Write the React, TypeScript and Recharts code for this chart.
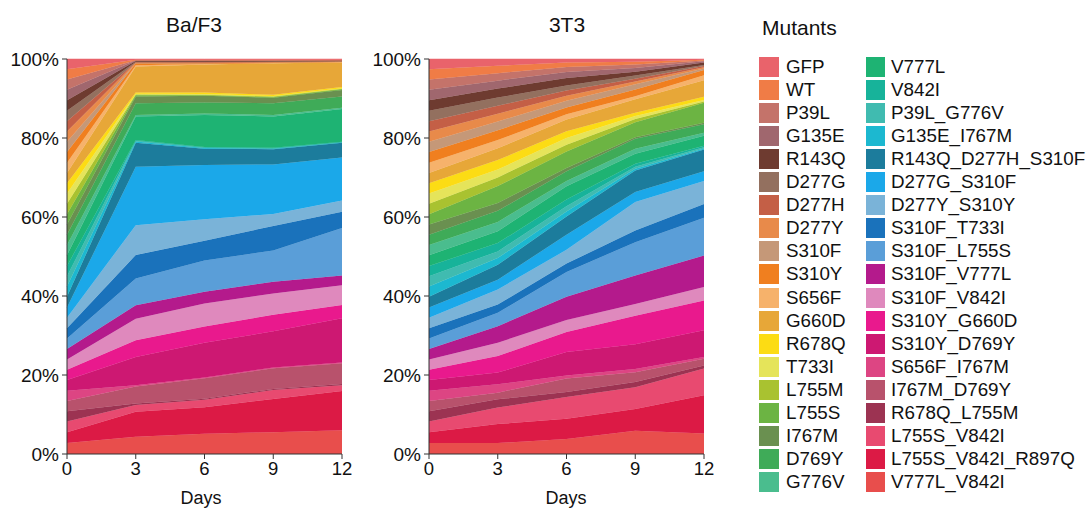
import React from 'react';
import { AreaChart, Area, XAxis, YAxis } from 'recharts';

const mutants = [
  'GFP', 'WT', 'P39L', 'G135E', 'R143Q', 'D277G', 'D277H', 'D277Y', 'S310F', 'S310Y',
  'S656F', 'G660D', 'R678Q', 'T733I', 'L755M', 'L755S', 'I767M', 'D769Y', 'G776V',
  'V777L', 'V842I', 'P39L_G776V', 'G135E_I767M', 'R143Q_D277H_S310F', 'D277G_S310F',
  'D277Y_S310Y', 'S310F_T733I', 'S310F_L755S', 'S310F_V777L', 'S310F_V842I',
  'S310Y_G660D', 'S310Y_D769Y', 'S656F_I767M', 'I767M_D769Y', 'R678Q_L755M',
  'L755S_V842I', 'L755S_V842I_R897Q', 'V777L_V842I',
];

const colors = [
  '#e9636b', '#f07c46', '#c4736a', '#a0676e', '#6e3b30', '#93705f', '#c45f46', '#e88a4a',
  '#c59878', '#f07f1f', '#f6b26b', '#e7a738', '#fcdc14', '#e5e45a', '#a9c230', '#6cb443',
  '#6a9050', '#3fab58', '#4abd8e', '#1eb373', '#17b39a', '#40bbb0', '#1cb8d0', '#1c7c9c',
  '#1ba8e9', '#7ab3d8', '#1a72bb', '#5a9ed8', '#b41a8c', '#df89bd', '#e9198d', '#cd1872',
  '#dd4583', '#b8526c', '#9c3352', '#e84a70', '#dc1a45', '#e84e4c',
];

const days = [0, 3, 6, 9, 12];
const yTicks = [0, 0.2, 0.4, 0.6, 0.8, 1];

// Ba/F3 percentages per day, in legend order
const baf3Day0 = [
  2.6, 2.6, 2.6, 2.6, 2.7, 2.6, 2.6, 2.6, 2.6, 2.7, 2.6, 2.6, 2.6, 2.6, 2.6, 2.6, 2.6, 2.6, 2.6,
  2.7, 2.6, 2.6, 2.6, 2.7, 2.6, 2.6, 2.6, 2.7, 2.6, 2.6, 2.6, 2.7, 2.6, 2.6, 2.6, 2.7, 2.7, 2.8,
];
const baf3Day3 = [
  0.2, 0.1, 0.1, 0.1, 0.2, 0.1, 0.1, 0.1, 0.1, 0.5, 0.3, 6.6, 0.3, 0.2, 0.2, 0.3, 1.7, 3.0, 0.4,
  5.9, 0.2, 0.2, 0.3, 6.1, 14.8, 7.6, 5.9, 6.8, 3.4, 5.5, 4.2, 7.2, 0.3, 4.3, 0.4, 1.7, 6.3, 4.4,
];
const baf3Day6 = [
  0.2, 0.1, 0.1, 0.1, 0.2, 0.1, 0.1, 0.1, 0.1, 0.2, 0.1, 7.2, 0.4, 0.15, 0.15, 0.15, 1.7, 2.8, 0.4,
  8.2, 0.15, 0.15, 0.15, 4.2, 13.9, 5.5, 5.1, 8.0, 3.0, 5.9, 4.2, 8.9, 0.2, 5.2, 0.3, 1.9, 6.8, 5.2,
];
const baf3Day9 = [
  0.2, 0.1, 0.1, 0.1, 0.1, 0.1, 0.1, 0.05, 0.05, 0.1, 0.1, 8.1, 0.3, 0.15, 0.15, 0.15, 1.4, 3.0, 0.4,
  8.0, 0.15, 0.1, 0.15, 3.9, 12.7, 3.1, 6.3, 8.0, 3.0, 5.5, 4.2, 9.3, 0.2, 5.3, 0.3, 2.3, 8.5, 5.6,
];
const baf3Day12 = [
  0.2, 0.1, 0.05, 0.05, 0.1, 0.05, 0.05, 0.05, 0.05, 0.1, 0.1, 6.3, 0.3, 0.15, 0.15, 0.15, 1.7, 2.9, 0.3,
  8.4, 0.1, 0.1, 0.1, 3.8, 11.0, 2.9, 4.2, 12.2, 2.5, 5.1, 3.4, 11.4, 0.2, 5.3, 0.3, 1.5, 10.1, 6.1,
];

// 3T3 percentages per day, in legend order
const t3Day0 = [
  2.6, 2.6, 2.6, 2.6, 2.7, 2.6, 2.6, 2.6, 2.6, 2.7, 2.6, 2.6, 2.6, 2.6, 2.6, 2.6, 2.6, 2.6, 2.6,
  2.7, 2.6, 2.6, 2.6, 2.7, 2.6, 2.6, 2.6, 2.7, 2.6, 2.6, 2.6, 2.7, 2.6, 2.6, 2.6, 2.7, 2.7, 2.8,
];
const t3Day3 = [
  1.7, 1.9, 1.9, 2.0, 2.3, 2.1, 2.0, 2.0, 2.2, 2.5, 2.1, 3.0, 2.4, 2.0, 2.2, 4.3, 2.0, 2.8, 2.4,
  3.0, 2.1, 1.7, 1.7, 3.8, 2.5, 3.8, 2.1, 3.4, 4.2, 3.4, 4.2, 3.0, 2.1, 1.7, 2.1, 4.2, 4.8, 2.8,
];
const t3Day6 = [
  0.9, 1.1, 1.3, 1.5, 1.9, 1.3, 1.3, 1.3, 1.7, 1.7, 1.3, 3.0, 1.7, 1.7, 1.7, 4.2, 0.8, 2.5, 1.3,
  3.4, 1.7, 1.3, 1.3, 4.6, 3.8, 3.5, 2.1, 6.3, 5.9, 3.0, 5.1, 5.9, 0.8, 3.4, 1.3, 5.5, 5.1, 3.8,
];
const t3Day9 = [
  0.7, 0.7, 0.9, 0.9, 1.0, 0.8, 0.7, 0.7, 1.3, 1.7, 0.8, 3.4, 0.8, 0.8, 0.8, 3.8, 0.4, 2.5, 1.3,
  2.5, 0.8, 0.5, 0.4, 5.5, 2.5, 7.2, 3.0, 8.4, 7.2, 3.0, 7.2, 6.3, 0.8, 2.5, 1.3, 5.5, 5.5, 5.9,
];
const t3Day12 = [
  0.2, 0.2, 0.2, 0.3, 0.6, 0.3, 0.3, 0.3, 0.4, 1.3, 1.3, 4.2, 0.8, 0.4, 0.3, 5.1, 0.4, 2.1, 0.8,
  2.5, 0.4, 0.3, 0.3, 5.5, 2.5, 5.8, 3.5, 9.6, 8.0, 3.4, 7.6, 6.8, 0.4, 1.7, 0.8, 6.8, 9.7, 5.2,
];

const baf3Rows = [baf3Day0, baf3Day3, baf3Day6, baf3Day9, baf3Day12];
const t3Rows = [t3Day0, t3Day3, t3Day6, t3Day9, t3Day12];

const FONT = '"Liberation Sans", Arial, sans-serif';

function buildData(rows: number[][]) {
  return days.map((d, i) => {
    const row: Record<string, number> = { day: d };
    mutants.forEach((m, j) => {
      row[m] = rows[i][j];
    });
    return row;
  });
}

function Panel({ rows, left }: { rows: number[][]; left: number }) {
  const data = buildData(rows);
  const areas = mutants
    .map((m, j) => (
      <Area
        key={m}
        type="linear"
        dataKey={m}
        stackId="1"
        fill={colors[j]}
        fillOpacity={1}
        stroke={colors[j]}
        strokeWidth={0.5}
        isAnimationActive={false}
        dot={false}
        activeDot={false}
      />
    ))
    .reverse();
  return (
    <div style={{ position: 'absolute', left, top: 0 }}>
      <AreaChart
        width={366}
        height={510}
        data={data}
        stackOffset="expand"
        margin={{ top: 59, right: 18, bottom: 26, left: 17 }}
      >
        <XAxis
          type="number"
          dataKey="day"
          domain={[0, 12]}
          ticks={days}
          tickSize={5}
          tickMargin={3}
          height={30}
          stroke="#333"
          tick={{ fill: '#111', fontSize: 18.5 }}
        />
        <YAxis
          type="number"
          domain={[0, 1]}
          ticks={yTicks}
          width={56}
          tickSize={5}
          tickMargin={3}
          stroke="#333"
          tick={{ fill: '#111', fontSize: 19 }}
          tickFormatter={(v: number) => `${Math.round(v * 100)}%`}
        />
        {areas}
      </AreaChart>
    </div>
  );
}

export default function App() {
  const col1 = mutants.slice(0, 19);
  const col2 = mutants.slice(19);
  const step = 23.1;
  return (
    <div
      style={{
        position: 'absolute',
        left: 0,
        top: 0,
        width: 1088,
        height: 510,
        background: '#fff',
        fontFamily: FONT,
        color: '#111',
      }}
    >
      <Panel rows={baf3Rows} left={-6} />
      <Panel rows={t3Rows} left={356} />

      <div style={{ position: 'absolute', left: 134, top: 12, width: 120, textAlign: 'center', fontSize: 21, lineHeight: '26px' }}>Ba/F3</div>
      <div style={{ position: 'absolute', left: 507, top: 12, width: 120, textAlign: 'center', fontSize: 21, lineHeight: '26px' }}>3T3</div>
      <div style={{ position: 'absolute', left: 151, top: 486, width: 100, textAlign: 'center', fontSize: 18, lineHeight: '24px' }}>Days</div>
      <div style={{ position: 'absolute', left: 516, top: 486, width: 100, textAlign: 'center', fontSize: 18, lineHeight: '24px' }}>Days</div>

      <div style={{ position: 'absolute', left: 762, top: 15, fontSize: 21, lineHeight: '26px' }}>Mutants</div>
      {col1.map((m, i) => (
        <div key={m} style={{ position: 'absolute', left: 759, top: 56 + i * step, height: 21, display: 'flex', alignItems: 'center' }}>
          <div style={{ width: 20, height: 20, background: colors[i] }} />
          <div style={{ marginLeft: 7, fontSize: 18.8, whiteSpace: 'nowrap' }}>{m}</div>
        </div>
      ))}
      {col2.map((m, i) => (
        <div key={m} style={{ position: 'absolute', left: 866, top: 56 + i * step, height: 21, display: 'flex', alignItems: 'center' }}>
          <div style={{ width: 19, height: 20, background: colors[19 + i] }} />
          <div style={{ marginLeft: 6, fontSize: 18.8, whiteSpace: 'nowrap' }}>{m}</div>
        </div>
      ))}
    </div>
  );
}
